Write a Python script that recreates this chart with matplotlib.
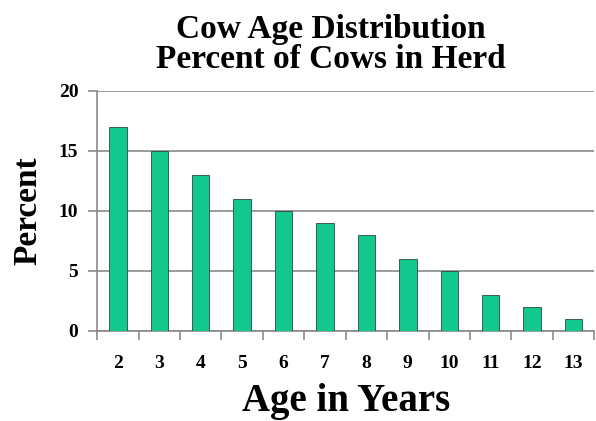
import numpy as np
import matplotlib
matplotlib.use('Agg')
import matplotlib.pyplot as plt

# data
ages = ['2', '3', '4', '5', '6', '7', '8', '9', '10', '11', '12', '13']
percent = [17, 15, 13, 11, 10, 9, 8, 6, 5, 3, 2, 1]
yticks = [0, 5, 10, 15, 20]

plt.rcParams['font.family'] = ['Liberation Serif', 'DejaVu Serif']
plt.rcParams['font.weight'] = 'bold'

fig = plt.figure(figsize=(5.96, 4.21), dpi=100)
ax = fig.add_axes([0.163, 0.214, 0.834, 0.57])

x = np.arange(len(ages))
ax.bar(x, percent, width=0.42, color='#12c88e', edgecolor='#2a4a3a', lw=0.6, zorder=3)

ax.set_xlim(-0.5, len(ages) - 0.5)
ax.set_ylim(0, 20)
ax.set_yticks(yticks)
ax.set_yticklabels([str(v) for v in yticks], fontsize=14, fontweight='bold')
ax.yaxis.grid(True, color='#8a8a8a', lw=1.2, zorder=0)

# x ticks between categories, labels centered
ax.set_xticks(np.arange(len(ages) + 1) - 0.5)
ax.set_xticklabels([])
ax.set_xticks(x, minor=True)
ax.set_xticklabels(ages, minor=True, fontsize=14, fontweight='bold')
ax.tick_params(axis='x', which='minor', length=0, pad=17)
ax.tick_params(axis='x', which='major', length=6.5, color='#8a8a8a', width=1.2)
ax.tick_params(axis='y', length=6.5, color='#8a8a8a', width=1.2, pad=7)

for s in ['top', 'right']:
    ax.spines[s].set_visible(False)
for s in ['left', 'bottom']:
    ax.spines[s].set_color('#8a8a8a')
    ax.spines[s].set_linewidth(1.2)

ax.set_ylabel('Percent', fontsize=24, fontweight='bold', labelpad=11)
ax.set_xlabel('Age in Years', fontsize=28, fontweight='bold', labelpad=8)
fig.suptitle('Cow Age Distribution\nPercent of Cows in Herd', fontsize=24,
             fontweight='bold', x=0.555, y=0.967, linespacing=0.95)

plt.savefig('out.png', dpi=100)
